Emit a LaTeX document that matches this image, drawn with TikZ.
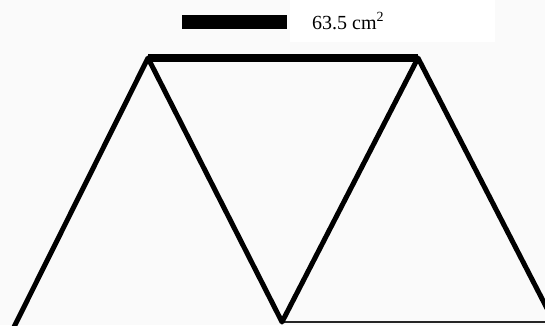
\documentclass[tikz,border=0pt]{standalone}
\usepackage{fontspec}
\setmainfont{Liberation Serif}
\begin{document}
\begin{tikzpicture}[x=1pt,y=-1pt,line join=round]
            \useasboundingbox[fill=black!2] (0,0) rectangle (545,325);
            \fill[white] (290,0) rectangle (495,42);
            \fill[black] (182,15) rectangle (287,29);
            \node[anchor=base west,inner sep=0pt,font=\fontsize{20}{22}\selectfont] (lbl) at (312,29) {63.5 cm\textsuperscript{2}};
            \coordinate (tl) at (148,58);
            \coordinate (tr) at (418,58);
            \coordinate (bl) at (14,327);
            \coordinate (bm) at (282,322);
            \coordinate (br) at (554,322);
            \begin{scope}
            \clip (0,0) rectangle (545,325);
            \draw[line width=1.8pt,black!85] (bm) -- (br);
            \draw[line width=5pt] (bl) -- (tl) -- (bm) -- (tr) -- (br);
            \draw[line width=7.5pt] (tl) -- (tr);
            \end{scope}
        \end{tikzpicture}
\end{document}
